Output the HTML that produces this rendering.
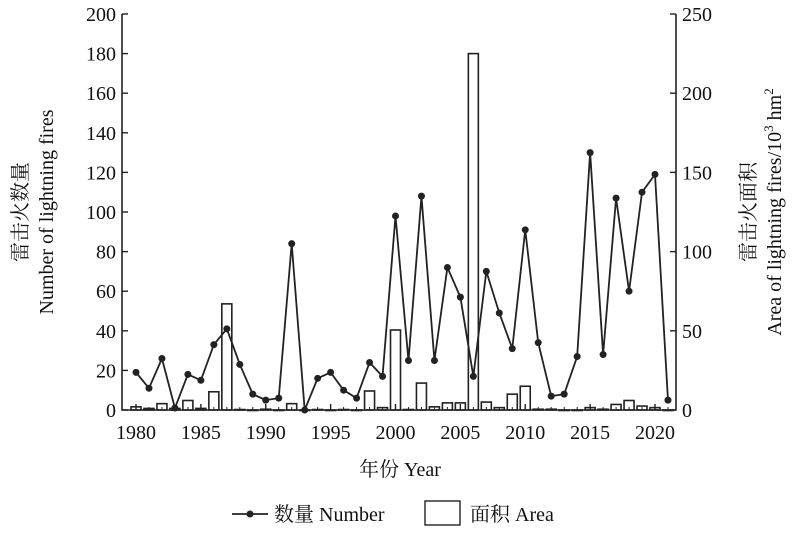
<!DOCTYPE html>
<html><head><meta charset="utf-8"><style>
body{margin:0;background:#fff}
svg text{font-family:"Liberation Serif","Noto Serif CJK SC",serif;fill:#111}
</style></head><body>
<svg width="800" height="529" id="chart">
<g id="plot"></g>
</svg>
<script>
const years=[1980,1981,1982,1983,1984,1985,1986,1987,1988,1989,1990,1991,1992,1993,1994,1995,1996,1997,1998,1999,2000,2001,2002,2003,2004,2005,2006,2007,2008,2009,2010,2011,2012,2013,2014,2015,2016,2017,2018,2019,2020,2021];
const numbers=[19,11,26,1,18,15,33,41,23,8,5,6,84,0,16,19,10,6,24,17,98,25,108,25,72,57,17,70,49,31,91,34,7,8,27,130,28,107,60,110,119,5];
const areas=[2,1,4,1,6,1,11.5,67,0.3,0,0.5,0,4,0,0.3,0,0.3,0,12,1.5,50.5,0.3,17,2,4.5,4.5,225,5,1.5,10,15,0.5,0.5,0,0,1.5,0.5,3.5,6,2.5,1.5,0];
const leftTicks=[0,20,40,60,80,100,120,140,160,180,200];
const rightTicks=[0,50,100,150,200,250];
const xTicks=[1980,1985,1990,1995,2000,2005,2010,2015,2020];
const NS="http://www.w3.org/2000/svg";
const X0=122,X1=676,Y0=410,Y1=14;
const x=y=>136+(y-1980)*12.975;
const yL=v=>Y0-(v/200)*(Y0-Y1);
const yR=v=>Y0-(v/250)*(Y0-Y1);
const svg=document.getElementById('chart');
function mk(t,a,p){const e=document.createElementNS(NS,t);for(const k in a)e.setAttribute(k,a[k]);(p||svg).appendChild(e);return e;}
// bars
areas.forEach((a,i)=>{const yy=yR(a);const b=mk('rect',{x:x(years[i])-5,y:yy,width:10,height:Math.max(Y0-yy,0.5),fill:'#fff',stroke:'#222','stroke-width':1.6});

});
// line
const ln=mk('polyline',{points:numbers.map((v,i)=>x(years[i])+','+yL(v)).join(' '),fill:'none',stroke:'#222','stroke-width':1.8});


numbers.forEach((v,i)=>{const c=mk('circle',{cx:x(years[i]),cy:yL(v),r:3.5,fill:'#222'});

});
// axes frame
const fr=mk('path',{d:`M${X0} ${Y1}V${Y0}H${X1}V${Y1}`,fill:'none',stroke:'#222','stroke-width':1.6});


leftTicks.forEach(t=>{mk('line',{x1:X0,x2:X0+6,y1:yL(t),y2:yL(t),stroke:'#222','stroke-width':1.4});
const tx=mk('text',{x:X0-6,y:yL(t)+7,'text-anchor':'end','font-size':20});tx.textContent=t;

});
rightTicks.forEach(t=>{mk('line',{x1:X1,x2:X1-6,y1:yR(t),y2:yR(t),stroke:'#222','stroke-width':1.4});
const tx=mk('text',{x:X1+6,y:yR(t)+7,'font-size':20});tx.textContent=t;

});
years.forEach(y=>mk('line',{x1:x(y),x2:x(y),y1:Y0,y2:Y0-3,stroke:'#222','stroke-width':1}));
xTicks.forEach(t=>{mk('line',{x1:x(t),x2:x(t),y1:Y0,y2:Y0-6,stroke:'#222','stroke-width':1.4});
const tx=mk('text',{x:x(t),y:439,'text-anchor':'middle','font-size':20});tx.textContent=t;

});
</script>
<svg width="800" height="529" style="position:absolute;left:0;top:0">
<text x="400" y="476" text-anchor="middle" font-size="20">年份 Year</text>
<text transform="translate(27,212) rotate(-90)" text-anchor="middle" font-size="20">雷击火数量</text>
<text transform="translate(53,212) rotate(-90)" text-anchor="middle" font-size="20">Number of lightning fires</text>
<text transform="translate(755,212) rotate(-90)" text-anchor="middle" font-size="20">雷击火面积</text>
<text transform="translate(781,212) rotate(-90)" text-anchor="middle" font-size="20">Area of lightning fires/10<tspan font-size="13" dy="-8">3</tspan><tspan dy="8"> hm</tspan><tspan font-size="13" dy="-8">2</tspan></text>
<g>
<line x1="232" x2="268" y1="514" y2="514" stroke="#222" stroke-width="1.8"/>
<circle cx="250" cy="514" r="3.5" fill="#222"/>
<text x="274" y="521" font-size="20">数量 Number</text>
<rect x="425" y="501" width="35" height="24" fill="#fff" stroke="#222" stroke-width="1.4"/>
<text x="470" y="521" font-size="20">面积 Area</text>
</g>
</svg>
</body></html>
